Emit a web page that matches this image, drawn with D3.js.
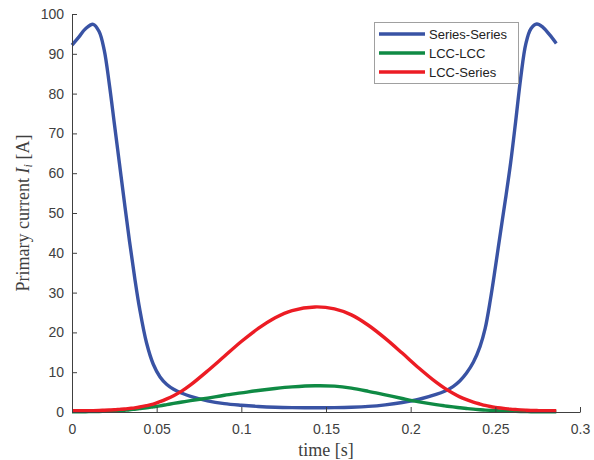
<!DOCTYPE html>
<html><head><meta charset="utf-8">
<script src="https://cdn.jsdelivr.net/npm/d3@7"></script>
<style>body{margin:0;background:#fff}svg{display:block}</style>
</head><body>
<script>
const time = [0,0.004,0.008,0.0125,0.016,0.019,0.022,0.025,0.028,0.031,0.034,0.037,0.040,0.044,0.048,0.052,0.056,0.060,0.065,0.070,0.080,0.090,0.100,0.110,0.120,0.130,0.1435,0.155,0.165,0.175,0.185,0.195,0.205,0.215,0.220,0.225,0.229,0.233,0.237,0.241,0.244,0.247,0.250,0.253,0.256,0.259,0.262,0.265,0.268,0.271,0.2745,0.278,0.282,0.286];
const seriesSeries = [92.2,94.2,96.3,97.4,95.6,91.0,82.5,72.5,62.5,52.5,42.8,33.8,25.8,17.4,12.0,8.8,6.9,5.7,4.7,3.9,2.8,2.1,1.7,1.4,1.2,1.1,1.05,1.1,1.2,1.4,1.8,2.4,3.2,4.4,5.2,6.4,7.8,9.8,12.5,16.5,21.0,28.0,36.3,45.0,53.5,62.5,73.0,84.0,92.5,96.3,97.5,96.7,94.8,92.6];
const lccLcc = [0.05,0.05,0.07,0.1,0.13,0.17,0.22,0.28,0.35,0.45,0.55,0.7,0.85,1.05,1.3,1.55,1.85,2.15,2.5,2.85,3.5,4.2,4.8,5.4,5.9,6.3,6.6,6.5,6.0,5.2,4.3,3.4,2.55,1.85,1.55,1.28,1.07,0.88,0.72,0.58,0.48,0.4,0.33,0.27,0.22,0.18,0.15,0.12,0.1,0.08,0.07,0.06,0.05,0.05];
const lccSeries = [0.3,0.3,0.3,0.35,0.4,0.45,0.5,0.55,0.65,0.75,0.9,1.05,1.25,1.6,2.0,2.6,3.3,4.1,5.3,6.8,10.3,14.0,17.7,21.0,23.7,25.5,26.4,25.9,24.4,21.8,18.5,14.8,11.0,7.5,6.0,4.7,3.8,3.1,2.5,2.0,1.65,1.38,1.17,1.0,0.85,0.72,0.62,0.53,0.46,0.4,0.36,0.33,0.31,0.3];
const seriesNames = ["Series-Series","LCC-LCC","LCC-Series"];
const seriesColors = ["#3953a4","#0f8a44","#ec1c24"];
const xTicks = [0,0.05,0.1,0.15,0.2,0.25,0.3];
const yTicks = [0,10,20,30,40,50,60,70,80,90,100];

const W=594,H=460;
const svg=d3.select("body").append("svg").attr("width",W).attr("height",H);
const x=d3.scaleLinear().domain([0,0.3]).range([72,580]);
const y=d3.scaleLinear().domain([0,100]).range([412,14]);
const axisColor="#404040";

const data=[seriesSeries,lccLcc,lccSeries];
const line=d3.line().x((d,i)=>x(time[i])).y(d=>y(d)).curve(d3.curveCatmullRom.alpha(0.5));
const g=svg.append("g");
data.forEach((s,k)=>{
  g.append("path").attr("d",line(s)).attr("fill","none").attr("stroke",seriesColors[k])
   .attr("stroke-width",3.4).attr("stroke-linejoin","round");
});

const xa=svg.append("g").attr("transform","translate(0,412)")
  .call(d3.axisBottom(x).tickValues(xTicks).tickFormat(d=>String(d)).tickSizeInner(-5).tickSizeOuter(0).tickPadding(12));
const ya=svg.append("g").attr("transform","translate(72,0)")
  .call(d3.axisLeft(y).tickValues(yTicks).tickSizeInner(-5).tickSizeOuter(0).tickPadding(8));
[xa,ya].forEach(a=>{
  a.selectAll("path").attr("stroke",axisColor).attr("stroke-width",1);
  a.selectAll("line").attr("stroke",axisColor);
  a.selectAll("text").attr("fill",axisColor).attr("font-family","Liberation Sans, Arial, sans-serif").attr("font-size",14);
});

svg.append("text").attr("x",326).attr("y",456).attr("text-anchor","middle")
  .attr("font-family","Liberation Serif, serif").attr("font-size",18).attr("fill",axisColor).text("time [s]");
const yl=svg.append("text").attr("transform","translate(29,213) rotate(-90)").attr("text-anchor","middle")
  .attr("font-family","Liberation Serif, serif").attr("font-size",18).attr("fill",axisColor);
yl.append("tspan").text("Primary current ");
yl.append("tspan").attr("font-style","italic").text("I");
yl.append("tspan").attr("font-style","italic").attr("font-size",12).attr("dy",3).text("i");
yl.append("tspan").attr("dy",-3).text(" [A]");

const lg=svg.append("g");
lg.append("rect").attr("x",374.5).attr("y",22.5).attr("width",144).attr("height",61)
  .attr("fill","#fff").attr("stroke","#a0a0a0").attr("stroke-width",1);
seriesNames.forEach((n,k)=>{
  const yy=34+k*19;
  lg.append("line").attr("x1",379).attr("x2",425).attr("y1",yy).attr("y2",yy)
    .attr("stroke",seriesColors[k]).attr("stroke-width",3.4);
  lg.append("text").attr("x",429).attr("y",yy+5).attr("font-family","Liberation Sans, Arial, sans-serif")
    .attr("font-size",13).attr("fill","#222").text(n);
});
</script>
</body></html>
